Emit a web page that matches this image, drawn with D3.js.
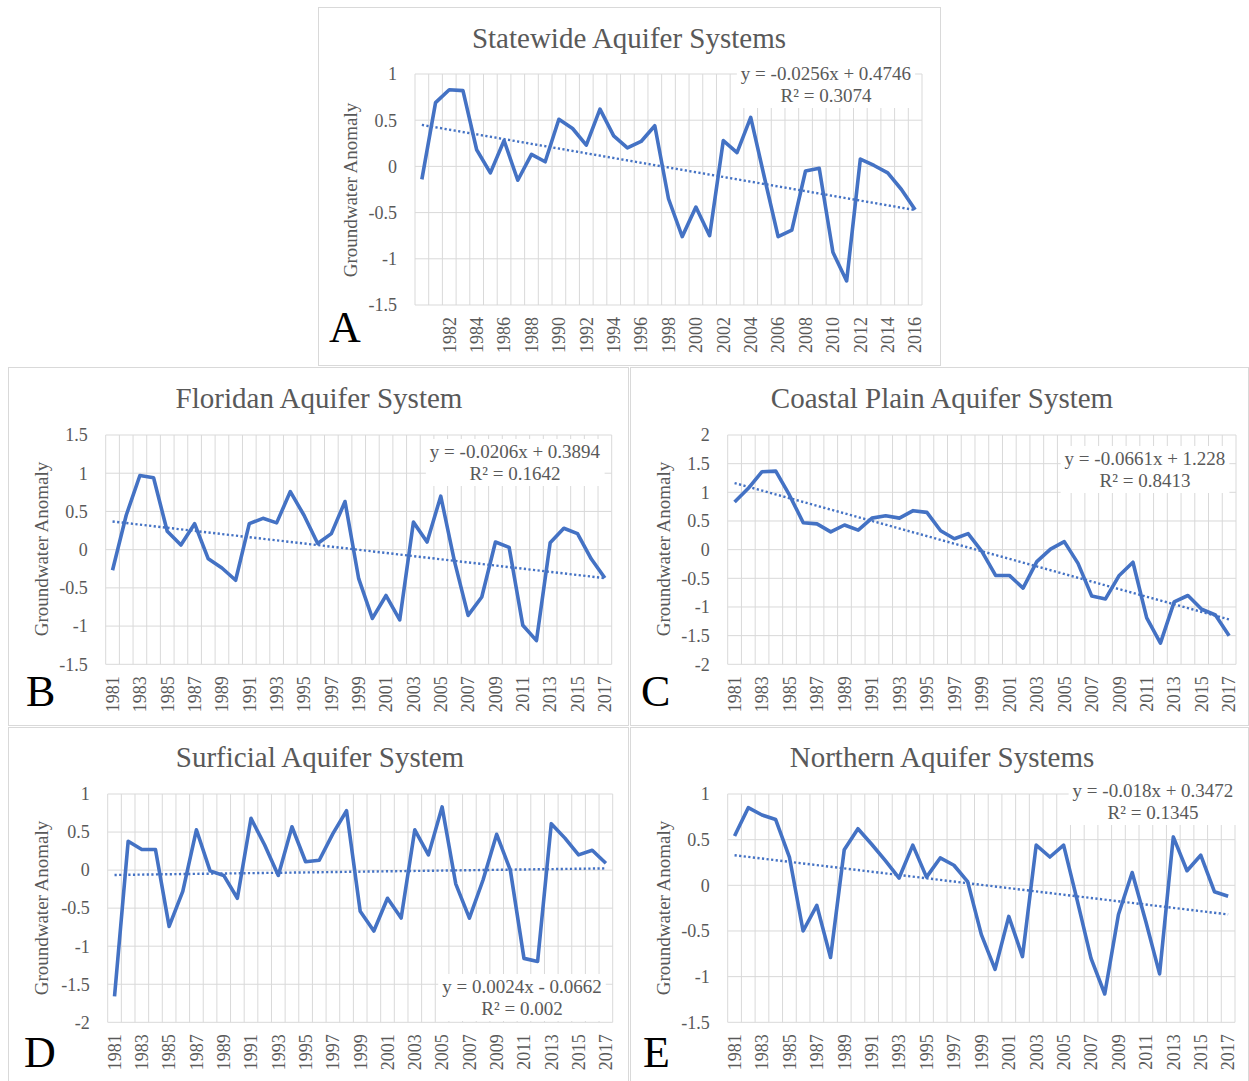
<!DOCTYPE html>
<html>
<head>
<meta charset="utf-8">
<script src="https://cdn.jsdelivr.net/npm/d3@7/dist/d3.min.js"></script>
<style>
  body { margin: 0; background: #fff; }
  text { font-family: "Liberation Serif", "Times New Roman", serif; }
</style>
</head>
<body>
<script>
// categories
const years1980 = [1980, 1981, 1982, 1983, 1984, 1985, 1986, 1987, 1988, 1989, 1990, 1991, 1992,
  1993, 1994, 1995, 1996, 1997, 1998, 1999, 2000, 2001, 2002, 2003, 2004, 2005, 2006, 2007, 2008,
  2009, 2010, 2011, 2012, 2013, 2014, 2015, 2016];
const years1981 = [1981, 1982, 1983, 1984, 1985, 1986, 1987, 1988, 1989, 1990, 1991, 1992, 1993,
  1994, 1995, 1996, 1997, 1998, 1999, 2000, 2001, 2002, 2003, 2004, 2005, 2006, 2007, 2008, 2009,
  2010, 2011, 2012, 2013, 2014, 2015, 2016, 2017];
// tick labels shown on the x axis
const evenLabels = [1982, 1984, 1986, 1988, 1990, 1992, 1994, 1996, 1998, 2000, 2002, 2004, 2006,
  2008, 2010, 2012, 2014, 2016];
const oddLabels = [1981, 1983, 1985, 1987, 1989, 1991, 1993, 1995, 1997, 1999, 2001, 2003, 2005,
  2007, 2009, 2011, 2013, 2015, 2017];

// groundwater anomaly series
const statewide = [-0.14, 0.69, 0.83, 0.82, 0.18, -0.07, 0.28, -0.15, 0.13, 0.05, 0.51, 0.41, 0.23,
  0.62, 0.33, 0.20, 0.27, 0.44, -0.35, -0.76, -0.44, -0.75, 0.28, 0.15, 0.53, -0.12, -0.76, -0.69,
  -0.05, -0.02, -0.93, -1.24, 0.08, 0.01, -0.07, -0.25, -0.47];
const floridan = [-0.27, 0.45, 0.97, 0.94, 0.24, 0.06, 0.34, -0.12, -0.24, -0.40, 0.34, 0.41, 0.35,
  0.76, 0.45, 0.08, 0.21, 0.63, -0.38, -0.90, -0.60, -0.92, 0.36, 0.10, 0.70, -0.15, -0.86, -0.62,
  0.10, 0.03, -0.99, -1.19, 0.09, 0.28, 0.21, -0.12, -0.37];
const coastal = [0.83, 1.07, 1.36, 1.37, 0.95, 0.47, 0.45, 0.31, 0.43, 0.34, 0.55, 0.59, 0.55,
  0.68, 0.65, 0.33, 0.19, 0.28, -0.03, -0.45, -0.45, -0.67, -0.21, 0.01, 0.14, -0.24, -0.81, -0.86,
  -0.45, -0.22, -1.19, -1.63, -0.91, -0.80, -1.04, -1.14, -1.50];
const surficial = [-1.66, 0.38, 0.27, 0.27, -0.74, -0.28, 0.53, -0.01, -0.07, -0.37, 0.68, 0.33,
  -0.07, 0.57, 0.11, 0.13, 0.48, 0.78, -0.54, -0.80, -0.37, -0.63, 0.53, 0.20, 0.83, -0.18, -0.63,
  -0.13, 0.47, 0.00, -1.16, -1.20, 0.61, 0.42, 0.20, 0.26, 0.09];
const northern = [0.54, 0.85, 0.77, 0.72, 0.31, -0.50, -0.22, -0.79, 0.39, 0.62, 0.45, 0.27, 0.08,
  0.44, 0.09, 0.30, 0.22, 0.04, -0.54, -0.92, -0.34, -0.78, 0.44, 0.31, 0.44, -0.17, -0.80, -1.19,
  -0.32, 0.14, -0.40, -0.97, 0.53, 0.16, 0.33, -0.07, -0.12];

// linear trend fits printed on each panel: [slope, intercept, r2]
const trendA = [-0.0256, 0.4746, 0.3074];
const trendB = [-0.0206, 0.3894, 0.1642];
const trendC = [-0.0661, 1.228, 0.8413];
const trendD = [0.0024, -0.0662, 0.002];
const trendE = [-0.018, 0.3472, 0.1345];

const titles = ['Statewide Aquifer Systems', 'Floridan Aquifer System', 'Coastal Plain Aquifer System',
  'Surficial Aquifer System', 'Northern Aquifer Systems'];
const letters = ['A', 'B', 'C', 'D', 'E'];

const width = 1249;
const height = 1081;
const blue = '#4472C4';
const grey = '#595959';
const gridColor = '#d9d9d9';

const svg = d3.select('body').append('svg')
  .attr('width', width)
  .attr('height', height);

const panels = [
  { box: [318, 7, 622, 358], plot: [415, 74, 922, 305], years: years1980, labels: evenLabels,
    values: statewide, domain: [-1.5, 1], ticks: 5, trend: trendA,
    titleAt: [629, 48], letterAt: [329, 342], yTitleAt: [357, 190], eqAt: [826, 80] },
  { box: [8, 367, 620, 358], plot: [105.7, 435, 611.7, 664.3], years: years1981, labels: oddLabels,
    values: floridan, domain: [-1.5, 1.5], ticks: 6, trend: trendB,
    titleAt: [319, 408], letterAt: [26, 706], yTitleAt: [48, 549], eqAt: [515, 458] },
  { box: [630, 367, 618, 358], plot: [727.7, 435, 1236, 664.3], years: years1981, labels: oddLabels,
    values: coastal, domain: [-2, 2], ticks: 8, trend: trendC,
    titleAt: [942, 408], letterAt: [641, 706], yTitleAt: [670, 549], eqAt: [1145, 465] },
  { box: [8, 727, 620, 360], plot: [107.7, 794, 612.7, 1022.3], years: years1981, labels: oddLabels,
    values: surficial, domain: [-2, 1], ticks: 6, trend: trendD,
    titleAt: [320, 767], letterAt: [24, 1067], yTitleAt: [48, 908], eqAt: [522, 993] },
  { box: [630, 727, 618, 360], plot: [727.7, 794, 1235, 1022.3], years: years1981, labels: oddLabels,
    values: northern, domain: [-1.5, 1], ticks: 5, trend: trendE,
    titleAt: [942, 767], letterAt: [643, 1067], yTitleAt: [670, 908], eqAt: [1153, 797] },
];

const fmtSigned = (v) => (v < 0 ? ' - ' : ' + ') + Math.abs(v);

const drawPanel = (p, k) => {
  const [l, t, r, b] = p.plot;
  const g = svg.append('g');

  g.append('rect')
    .attr('x', p.box[0] + 0.5).attr('y', p.box[1] + 0.5)
    .attr('width', p.box[2]).attr('height', p.box[3])
    .attr('fill', '#fff').attr('stroke', gridColor);

  const x = d3.scaleBand().domain(p.years).range([l, r]);
  const y = d3.scaleLinear().domain(p.domain).range([b, t]);
  const cx = (d) => x(d) + x.bandwidth() / 2;

  // gridlines between categories
  const bounds = p.years.map((d) => x(d)).concat([r]);
  g.selectAll(null).data(bounds).join('line')
    .attr('x1', (d) => d).attr('x2', (d) => d)
    .attr('y1', t).attr('y2', b)
    .attr('stroke', gridColor).attr('stroke-width', 1);

  const yTicks = y.ticks(p.ticks);
  g.selectAll(null).data(yTicks).join('line')
    .attr('x1', l).attr('x2', r)
    .attr('y1', (d) => y(d)).attr('y2', (d) => y(d))
    .attr('stroke', gridColor).attr('stroke-width', 1);

  g.selectAll(null).data(yTicks).join('text')
    .attr('x', l - 18).attr('y', (d) => y(d))
    .attr('dy', '0.35em')
    .attr('text-anchor', 'end')
    .attr('font-size', 18).attr('fill', grey)
    .text((d) => String(d));

  g.selectAll(null).data(p.labels).join('text')
    .attr('transform', (d) => `translate(${cx(d)},${b + 12}) rotate(-90)`)
    .attr('dy', '0.35em')
    .attr('text-anchor', 'end')
    .attr('font-size', 18).attr('fill', grey)
    .text((d) => d);

  // trend line from the printed fit
  const [m, c, r2] = p.trend;
  const first = p.years[0];
  const last = p.years[p.years.length - 1];
  g.append('line')
    .attr('x1', cx(first)).attr('y1', y(m * 1 + c))
    .attr('x2', cx(last)).attr('y2', y(m * p.years.length + c))
    .attr('stroke', blue).attr('stroke-width', 2.4)
    .attr('stroke-dasharray', '2.2,2.4');

  const line = d3.line()
    .x((d, i) => cx(p.years[i]))
    .y((d) => y(d));
  g.append('path')
    .attr('d', line(p.values))
    .attr('fill', 'none').attr('stroke', blue)
    .attr('stroke-width', 3.6)
    .attr('stroke-linejoin', 'round');

  // equation label with white backing
  const eq = g.append('g');
  const bg = eq.append('rect').attr('fill', '#fff');
  eq.append('text')
    .attr('x', p.eqAt[0]).attr('y', p.eqAt[1])
    .attr('text-anchor', 'middle').attr('font-size', 19).attr('fill', grey)
    .text(`y = ${m}x${fmtSigned(c)}`);
  eq.append('text')
    .attr('x', p.eqAt[0]).attr('y', p.eqAt[1] + 22)
    .attr('text-anchor', 'middle').attr('font-size', 19).attr('fill', grey)
    .text(`R² = ${r2}`);
  const bb = eq.node().getBBox();
  bg.attr('x', bb.x - 4).attr('y', bb.y - 2)
    .attr('width', bb.width + 8).attr('height', bb.height + 4);

  g.append('text')
    .attr('x', p.titleAt[0]).attr('y', p.titleAt[1])
    .attr('text-anchor', 'middle').attr('font-size', 29).attr('fill', grey)
    .text(titles[k]);

  g.append('text')
    .attr('transform', `translate(${p.yTitleAt[0]},${p.yTitleAt[1]}) rotate(-90)`)
    .attr('text-anchor', 'middle').attr('font-size', 19).attr('fill', grey)
    .text('Groundwater Anomaly');

  g.append('text')
    .attr('x', p.letterAt[0]).attr('y', p.letterAt[1])
    .attr('font-size', 44).attr('fill', '#000')
    .text(letters[k]);
};

panels.forEach(drawPanel);
</script>
</body>
</html>
